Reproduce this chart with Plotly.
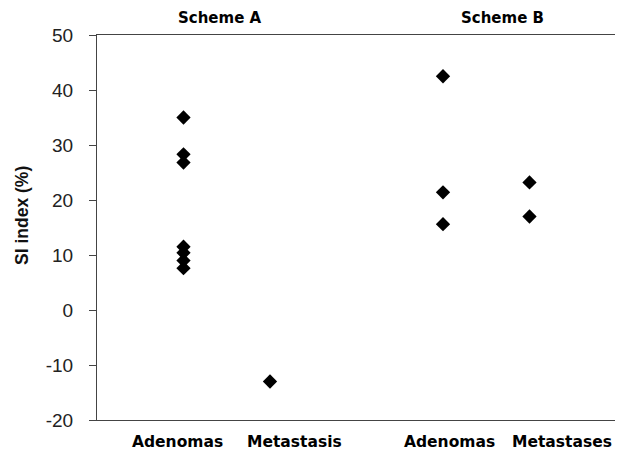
import plotly.graph_objects as go

# Data
groups = ["Scheme A", "Scheme B"]
categories = ["Adenomas", "Metastasis", "Adenomas", "Metastases"]
cat_pos = [1, 2, 4, 5]
scheme_a_adenomas = [35.0, 28.3, 26.8, 11.5, 10.4, 9.0, 7.6]
scheme_a_metastasis = [-13.0]
scheme_b_adenomas = [42.5, 21.4, 15.6]
scheme_b_metastases = [23.2, 17.0]
series = [scheme_a_adenomas, scheme_a_metastasis, scheme_b_adenomas, scheme_b_metastases]
y_ticks = [-20, -10, 0, 10, 20, 30, 40, 50]
y_tick_labels = ["-20", "-10", "0", "10", "20", "30", "40", "50"]

# Layout helpers (styling)
label_x = [0.93, 2.28, 4.08, 5.38]
group_x = [1.42, 4.69]

fig = go.Figure()
for pos, vals in zip(cat_pos, series):
    fig.add_trace(go.Scatter(
        x=[pos] * len(vals), y=vals, mode="markers",
        marker=dict(symbol="diamond", size=11, color="black", line=dict(width=0)),
        showlegend=False, hoverinfo="y"))

annotations = []
for lx, name in zip(label_x, categories):
    annotations.append(dict(x=lx, y=0, xref="x", yref="paper", text="<b>%s</b>" % name,
                            showarrow=False, yanchor="top", yshift=-11,
                            font=dict(family="DejaVu Sans", size=15.5, color="black")))
for gx, g in zip(group_x, groups):
    annotations.append(dict(x=gx, y=1, xref="x", yref="paper", text="<b>%s</b>" % g,
                            showarrow=False, yanchor="bottom", yshift=6,
                            font=dict(family="DejaVu Sans", size=15, color="black")))
annotations.append(dict(x=0, y=0.53, xref="paper", yref="paper", text="<b>SI index (%)</b>",
                        showarrow=False, textangle=-90, xanchor="center", xshift=-75,
                        font=dict(family="Liberation Sans, Arial", size=17.5, color="#111")))

fig.update_layout(
    width=615, height=443,
    margin=dict(l=89, r=7, t=27, b=31),
    paper_bgcolor="white", plot_bgcolor="white",
    annotations=annotations,
    xaxis=dict(range=[0, 6], showticklabels=False, ticks="", showgrid=False, zeroline=False,
               showline=True, linecolor="#444", linewidth=1, mirror=True, fixedrange=True),
    yaxis=dict(range=[-20, 50], tickvals=y_ticks, ticktext=y_tick_labels,
               ticks="outside", ticklen=7, tickcolor="#444",
               showgrid=False, zeroline=False, showline=True, linecolor="#444", linewidth=1,
               mirror=True, ticklabelstandoff=12,
               tickfont=dict(family="Liberation Sans, Arial", size=19, color="#222")),
)

fig.write_html("out.html")
